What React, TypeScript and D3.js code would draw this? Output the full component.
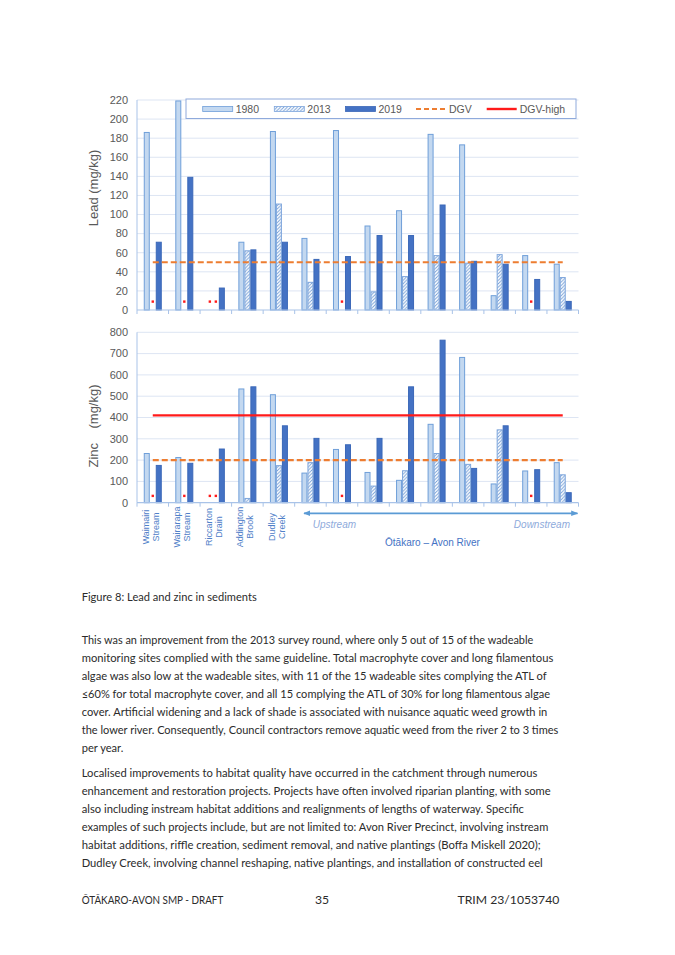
import React from "react";
import * as d3 from "d3";

// ---------- data ----------
const sites = [
  "Waimairi Stream", "Wairarapa Stream", "Riccarton Drain", "Addington Brook", "Dudley Creek",
  "Avon 1", "Avon 2", "Avon 3", "Avon 4", "Avon 5", "Avon 6", "Avon 7", "Avon 8", "Avon 9",
];
const siteLabels: string[][] = [
  ["Waimairi", "Stream"], ["Wairarapa", "Stream"], ["Riccarton", "Drain"], ["Addington", "Brook"], ["Dudley", "Creek"],
  [], [], [], [], [], [], [], [], [],
];
const years = ["1980", "2013", "2019"];
const lead1980 = [186, 219, null, 71, 187, 75, 188, 88, 104, 184, 173, 15, 57, 48];
const lead2013 = [null, null, null, 62, 111, 29, null, 19, 35, 57, 49, 58, null, 34];
const lead2019 = [71, 139, 23, 63, 71, 53, 56, 78, 78, 110, 51, 48, 32, 9];
const zinc1980 = [231, 212, null, 534, 507, 139, 250, 142, 105, 368, 682, 88, 149, 188];
const zinc2013 = [null, null, null, 20, 174, 188, null, 78, 150, 231, 180, 342, null, 131];
const zinc2019 = [175, 185, 252, 544, 361, 302, 272, 302, 544, 763, 161, 361, 155, 47];
const leadTicks = [0, 20, 40, 60, 80, 100, 120, 140, 160, 180, 200, 220];
const zincTicks = [0, 100, 200, 300, 400, 500, 600, 700, 800];
const leadDGV = 50;
const zincDGV = 200;
const zincDGVHigh = 410;

const caption = "Figure 8: Lead and zinc in sediments";
const para1 = [
  "This was an improvement from the 2013 survey round, where only 5 out of 15 of the wadeable",
  "monitoring sites complied with the same guideline. Total macrophyte cover and long filamentous",
  "algae was also low at the wadeable sites, with 11 of the 15 wadeable sites complying the ATL of",
  "\u226460% for total macrophyte cover, and all 15 complying the ATL of 30% for long filamentous algae",
  "cover. Artificial widening and a lack of shade is associated with nuisance aquatic weed growth in",
  "the lower river. Consequently, Council contractors remove aquatic weed from the river 2 to 3 times",
  "per year.",
];
const para1Ends = [533.3, 553.3, 546.7, 550, 547.3, 558.3, 123.3];
const para2 = [
  "Localised improvements to habitat quality have occurred in the catchment through numerous",
  "enhancement and restoration projects. Projects have often involved riparian planting, with some",
  "also including instream habitat additions and realignments of lengths of waterway. Specific",
  "examples of such projects include, but are not limited to: Avon River Precinct, involving instream",
  "habitat additions, riffle creation, sediment removal, and native plantings (Boffa Miskell 2020);",
  "Dudley Creek, involving channel reshaping, native plantings, and installation of constructed eel",
];
const para2Ends = [537.3, 550.7, 524, 548.3, 540.7, 542.7];
const footerLeft = "\u014CT\u0100KARO-AVON SMP - DRAFT";
const footerMid = "35";
const footerRight = "TRIM 23/1053740";

// ---------- styles ----------
const C1980 = "#c3d8f0";
const S1980 = "#6f9fd9";
const S2013 = "#7ea6dc";
const C2019 = "#4472c4";
const S2019 = "#3b68b8";
const GRID = "#dde5f3";
const AXIS = "#a9c3e8";
const ORANGE = "#ed7d31";
const RED = "#ff1a1a";
const TICKTXT = "#595959";
const ARIAL = "Arial, 'Liberation Sans', sans-serif";
const BODY = "Lato, 'Noto Sans', sans-serif";

const X_LEFT = 137;
const X_RIGHT = 578.5;

function BarChart({ s1980, s2013, s2019, yScale, ticks, dgv, dgvHigh, idp }: any) {
  const x0 = d3.scaleBand<string>().domain(sites).range([X_LEFT, X_RIGHT]).padding(0);
  const bw = x0.bandwidth();
  const inner = 18;
  const x1 = d3.scaleBand<string>().domain(years).range([(bw - inner) / 2, (bw + inner) / 2]);
  const series: Record<string, (number | null)[]> = { "1980": s1980, "2013": s2013, "2019": s2019 };
  const y0 = yScale(0);
  const yTop = yScale(ticks[ticks.length - 1]);
  const firstC = (x0(sites[0]) as number) + bw / 2;
  const lastC = (x0(sites[sites.length - 1]) as number) + bw / 2;
  const markerVal = ticks[ticks.length - 1] * 0.04;
  return (
    <g>
      {ticks.map((t: number) => (
        <g key={t}>
          {t > 0 && <line x1={X_LEFT} x2={X_RIGHT} y1={yScale(t)} y2={yScale(t)} stroke={GRID} strokeWidth={1} />}
          <text x={X_LEFT - 9} y={yScale(t)} dy="0.35em" textAnchor="end" fontFamily={ARIAL} fontSize={11} fill={TICKTXT}>{t}</text>
        </g>
      ))}
      <line x1={X_LEFT} x2={X_LEFT} y1={yTop} y2={y0} stroke={AXIS} strokeWidth={1} />
      {sites.map((s, i) => (
        <g key={s}>
          {years.map((yr) => {
            const v = series[yr][i];
            const bx = (x0(s) as number) + (x1(yr) as number);
            if (v == null) {
              return <rect key={yr} x={bx + x1.bandwidth() / 2 - 1.2} y={yScale(markerVal) - 1.2} width={2.4} height={2.4} fill={RED} />;
            }
            const fill = yr === "1980" ? C1980 : yr === "2013" ? `url(#hatch${idp})` : C2019;
            const stroke = yr === "1980" ? S1980 : yr === "2013" ? S2013 : S2019;
            return (
              <rect key={yr} x={bx + 0.5} y={yScale(v)} width={x1.bandwidth() - 1} height={y0 - yScale(v)} fill={fill} stroke={stroke} strokeWidth={1} />
            );
          })}
        </g>
      ))}
      <line x1={X_LEFT} x2={X_RIGHT} y1={y0} y2={y0} stroke={AXIS} strokeWidth={1.2} />
      {sites.map((s) => (
        <line key={s} x1={x0(s)} x2={x0(s)} y1={y0} y2={y0 + 4} stroke={AXIS} strokeWidth={1} />
      ))}
      <line x1={X_RIGHT} x2={X_RIGHT} y1={y0} y2={y0 + 4} stroke={AXIS} strokeWidth={1} />
      <line x1={firstC} x2={lastC} y1={yScale(dgv)} y2={yScale(dgv)} stroke={ORANGE} strokeWidth={2.2} strokeDasharray="6,3" />
      {dgvHigh != null && (
        <line x1={firstC} x2={lastC} y1={yScale(dgvHigh)} y2={yScale(dgvHigh)} stroke={RED} strokeWidth={2.4} />
      )}
    </g>
  );
}

export default function App() {
  const leadY = d3.scaleLinear().domain([0, 220]).range([310, 100]);
  const zincY = d3.scaleLinear().domain([0, 800]).range([502.7, 332.3]);
  const x0 = d3.scaleBand<string>().domain(sites).range([X_LEFT, X_RIGHT]).padding(0);
  const bw = x0.bandwidth();

  const legendItems = [
    { key: "1980", x: 202.7 },
    { key: "2013", x: 274.3 },
    { key: "2019", x: 345.5 },
    { key: "DGV", x: 416 },
    { key: "DGV-high", x: 486.7 },
  ];

  const bodyLine = (t: string, i: number, y: number, end: number) => (
    <text key={i} x={81.7} y={y} fontFamily={BODY} fontSize={12.2} fill="#2b2b2b" textLength={end - 81.7} lengthAdjust="spacingAndGlyphs">{t}</text>
  );

  return (
    <svg width={675} height={955} style={{ position: "absolute", left: 0, top: 0, background: "#fff" }}>
      <defs>
        {["L", "Z", "G"].map((p) => (
          <pattern key={p} id={`hatch${p}`} patternUnits="userSpaceOnUse" width={3.4} height={3.4}>
            <rect width={3.4} height={3.4} fill="#fff" />
            <path d="M-0.85,0.85 L0.85,-0.85 M0,3.4 L3.4,0 M2.55,4.25 L4.25,2.55" stroke="#6f9bd6" strokeWidth={0.9} />
          </pattern>
        ))}
        <marker id="arrowHead" viewBox="0 0 10 10" refX={9} refY={5} markerWidth={7} markerHeight={7} orient="auto-start-reverse" markerUnits="userSpaceOnUse">
          <path d="M0,1 L10,5 L0,9 Z" fill="#5b9bd5" />
        </marker>
      </defs>

      {/* Lead chart */}
      <BarChart s1980={lead1980} s2013={lead2013} s2019={lead2019} yScale={leadY} ticks={leadTicks} dgv={leadDGV} dgvHigh={null} idp="L" />
      <text transform="translate(98,188) rotate(-90)" textAnchor="middle" fontFamily={ARIAL} fontSize={13} fill={TICKTXT}>Lead (mg/kg)</text>

      {/* Legend */}
      <rect x={186} y={99} width={390} height={19.5} fill="#fff" stroke="#8faadc" strokeWidth={1} />
      {legendItems.map((it) => (
        <g key={it.key}>
          {it.key === "1980" && <rect x={it.x} y={106.5} width={30} height={5} fill={C1980} stroke={S1980} strokeWidth={0.8} />}
          {it.key === "2013" && <rect x={it.x} y={106.5} width={30} height={5} fill="url(#hatchG)" stroke={S2013} strokeWidth={0.8} />}
          {it.key === "2019" && <rect x={it.x} y={106.5} width={30} height={5} fill={C2019} stroke={S2019} strokeWidth={0.8} />}
          {it.key === "DGV" && <line x1={it.x} x2={it.x + 30} y1={109} y2={109} stroke={ORANGE} strokeWidth={2} strokeDasharray="5,3" />}
          {it.key === "DGV-high" && <line x1={it.x} x2={it.x + 30} y1={109} y2={109} stroke={RED} strokeWidth={2.4} />}
          <text x={it.x + 33} y={112.5} fontFamily={ARIAL} fontSize={10.5} fill={TICKTXT}>{it.key}</text>
        </g>
      ))}

      {/* Zinc chart */}
      <BarChart s1980={zinc1980} s2013={zinc2013} s2019={zinc2019} yScale={zincY} ticks={zincTicks} dgv={zincDGV} dgvHigh={zincDGVHigh} idp="Z" />
      <text transform="translate(98,426) rotate(-90)" textAnchor="middle" fontFamily={ARIAL} fontSize={13} fill={TICKTXT} style={{ whiteSpace: "pre" }}>{"Zinc    (mg/kg)"}</text>

      {/* Category labels */}
      {sites.map((s, i) => {
        const cx = (x0(s) as number) + bw / 2;
        const lines = siteLabels[i];
        return lines.map((ln, j) => (
          <text key={s + j} transform={`translate(${cx + (j === 0 ? -4 : 6)},527) rotate(-90)`} textAnchor="middle" fontFamily={ARIAL} fontSize={9} fill="#4f80c8">{ln}</text>
        ));
      })}

      {/* Upstream / downstream arrow */}
      <line x1={304} x2={577.5} y1={513.3} y2={513.3} stroke="#5b9bd5" strokeWidth={1.8} markerStart="url(#arrowHead)" markerEnd="url(#arrowHead)" />
      <text x={312.7} y={528} fontFamily={ARIAL} fontSize={10} fontStyle="italic" fill="#8eaadb">Upstream</text>
      <text x={570} y={528} textAnchor="end" fontFamily={ARIAL} fontSize={10} fontStyle="italic" fill="#8eaadb">Downstream</text>
      <text x={432.5} y={545.5} textAnchor="middle" fontFamily={ARIAL} fontSize={10} fill="#4472c4">{"\u014Ct\u0101karo \u2013 Avon River"}</text>

      {/* Caption & body text */}
      <text x={81.7} y={600.5} fontFamily={BODY} fontSize={12.2} fill="#2b2b2b" textLength={256.7 - 81.7} lengthAdjust="spacingAndGlyphs">{caption}</text>
      {para1.map((t, i) => bodyLine(t, i, 644.3 + i * 18, para1Ends[i]))}
      {para2.map((t, i) => bodyLine(t, 100 + i, 776.7 + i * 18, para2Ends[i]))}

      {/* Footer */}
      <text x={81.7} y={904} fontFamily={BODY} fontSize={12.2} fill="#2b2b2b" textLength={223.3 - 81.7} lengthAdjust="spacingAndGlyphs">{footerLeft}</text>
      <text x={315} y={904} fontFamily={BODY} fontSize={12.2} fill="#2b2b2b">{footerMid}</text>
      <text x={559.3} y={904} textAnchor="end" fontFamily={BODY} fontSize={12.2} fill="#2b2b2b">{footerRight}</text>
    </svg>
  );
}
